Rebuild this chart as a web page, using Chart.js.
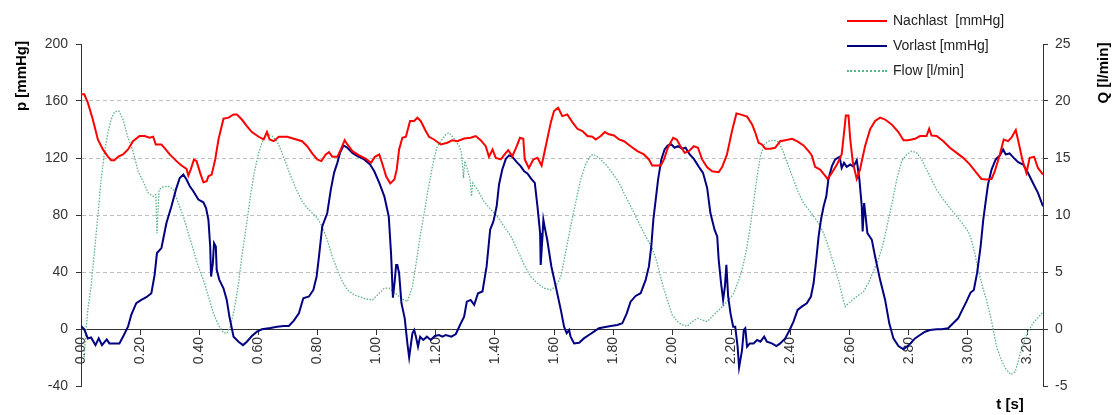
<!DOCTYPE html>
<html>
<head>
<meta charset="utf-8">
<script src="https://cdn.jsdelivr.net/npm/chart.js@4"></script>
<style>
  body { margin: 0; background: #fff; }
  #wrap { position: relative; width: 1116px; height: 415px; font-family: Arial, "Liberation Sans", sans-serif; }
  #leyenda { position: absolute; left: 847px; top: 8px; font-size: 14px; color: #222; }
  #leyenda div { height: 25px; line-height: 25px; white-space: pre; }
  #leyenda .linea { display: inline-block; width: 40px; height: 0; vertical-align: middle; margin-right: 6px; }
</style>
</head>
<body>
<div id="wrap">
  <canvas id="grafica" width="1116" height="415"></canvas>
  <div id="leyenda"></div>
</div>
<script>
// tiempo [s] y valores
const xTicks = [0, 0.2, 0.4, 0.6, 0.8, 1.0, 1.2, 1.4, 1.6, 1.8, 2.0, 2.2, 2.4, 2.6, 2.8, 3.0, 3.2]
const pTicks = [-40, 0, 40, 80, 120, 160, 200]
const qTicks = [-5, 0, 5, 10, 15, 20, 25]

const nachlastT = [0, 0.011, 0.023, 0.040, 0.057, 0.074, 0.091, 0.102, 0.113, 0.125, 0.142, 0.159, 0.176, 0.198, 0.215, 0.232, 0.244, 0.253, 0.272, 0.283,
  0.300, 0.323, 0.340, 0.357, 0.363, 0.371, 0.382, 0.391, 0.403, 0.414, 0.425, 0.431, 0.442, 0.454, 0.465, 0.482, 0.499, 0.516, 0.527, 0.544,
  0.561, 0.578, 0.601, 0.618, 0.629, 0.638, 0.652, 0.669, 0.697, 0.720, 0.748, 0.765, 0.782, 0.799, 0.813, 0.828, 0.839, 0.850, 0.867, 0.879,
  0.892, 0.901, 0.918, 0.941, 0.964, 0.981, 0.994, 1.009, 1.020, 1.032, 1.046, 1.060, 1.068, 1.076, 1.087, 1.099, 1.113, 1.127, 1.138, 1.149,
  1.166, 1.177, 1.194, 1.217, 1.239, 1.256, 1.273, 1.296, 1.318, 1.335, 1.352, 1.369, 1.380, 1.392, 1.403, 1.420, 1.433, 1.445, 1.459, 1.474,
  1.485, 1.496, 1.501, 1.515, 1.530, 1.544, 1.558, 1.572, 1.589, 1.600, 1.614, 1.628, 1.645, 1.662, 1.679, 1.696, 1.713, 1.730, 1.741, 1.758,
  1.772, 1.786, 1.803, 1.820, 1.837, 1.859, 1.882, 1.904, 1.921, 1.932, 1.949, 1.961, 1.972, 1.985, 2.003, 2.015, 2.028, 2.042, 2.056, 2.073,
  2.087, 2.101, 2.118, 2.135, 2.157, 2.169, 2.185, 2.202, 2.217, 2.230, 2.253, 2.270, 2.281, 2.292, 2.303, 2.315, 2.332, 2.348, 2.365, 2.382,
  2.405, 2.422, 2.444, 2.461, 2.472, 2.483, 2.500, 2.514, 2.525, 2.540, 2.557, 2.573, 2.581, 2.587, 2.596, 2.602, 2.611, 2.624, 2.635, 2.652,
  2.669, 2.686, 2.703, 2.720, 2.742, 2.765, 2.782, 2.798, 2.821, 2.838, 2.860, 2.869, 2.877, 2.894, 2.917, 2.939, 2.962, 2.984, 3.007, 3.029,
  3.046, 3.063, 3.080, 3.091, 3.108, 3.121, 3.136, 3.147, 3.162, 3.173, 3.184, 3.198, 3.209, 3.224, 3.237, 3.254]
const nachlastP = [164.7, 164.7, 158.8, 147, 133, 126, 121, 118.5, 118.5, 120.8, 122.5, 126, 131.8, 135.4, 135.4, 134.2, 134.9, 129.5, 129.5, 127,
  122.5, 117.8, 114.7, 112.4, 107.7, 111.9, 119, 117.8, 109.6, 103, 103.7, 107.2, 108.4, 119, 133, 147.6, 148.3, 150.6, 150.6, 147,
  142.4, 138.2, 134.9, 133, 138.2, 133, 131.8, 134.9, 134.9, 133.5, 131.8, 128.3, 123.2, 119, 117.8, 122.5, 124.1, 120.8, 120.8, 126,
  132.5, 129.5, 124.8, 121.8, 119.4, 116.6, 120.8, 122.5, 115.4, 107.2, 102.2, 105, 112, 126, 134.2, 134.9, 146, 146, 148.3, 146,
  138.9, 134.9, 133, 129.5, 130.7, 132.5, 131.8, 133.7, 134.2, 135.4, 132.5, 128.3, 120.8, 126, 120.1, 119, 122.5, 125.5, 121.3, 128.3,
  134.2, 133.5, 119, 113, 119, 120.1, 114.7, 128.3, 144.8, 153, 155.3, 149.4, 150.6, 145.2, 140.5, 138.9, 135.4, 134.9, 133, 135.4,
  138.2, 136.6, 135.8, 133, 131.8, 128.3, 124.8, 122.5, 119, 114.7, 114.7, 114.7, 119, 127.2, 134.2, 133, 128.3, 123.6, 124.8, 128.3,
  127.2, 119, 113.5, 110.7, 110, 113.8, 122.5, 138.9, 151.3, 150.6, 149, 143.6, 137.7, 130.7, 129.5, 126.5, 126.5, 127.2, 131.8, 132.5,
  133.5, 131.8, 128.8, 124.8, 121.8, 113.8, 111.9, 108.4, 105.3, 109.6, 115.4, 122.5, 137.7, 149.9, 149.9, 133, 116.6, 105.3, 111.9, 128.3,
  140.1, 146, 148.3, 147, 143.6, 138.2, 132.5, 132.5, 133.5, 135.4, 135.4, 140.5, 135.8, 135.4, 131.8, 127.2, 123.6, 120.1, 115.4, 109.6,
  105.3, 104.9, 105.3, 110.7, 122.5, 133, 131.8, 134.2, 139.6, 129.5, 119, 109.6, 120.1, 120.8, 113, 108.4]

const vorlastT = [0, 0.011, 0.023, 0.034, 0.049, 0.060, 0.071, 0.087, 0.096, 0.130, 0.142, 0.159, 0.170, 0.187, 0.204, 0.221, 0.238, 0.249, 0.257, 0.272,
  0.289, 0.306, 0.321, 0.334, 0.346, 0.357, 0.368, 0.380, 0.397, 0.414, 0.423, 0.431, 0.437, 0.440, 0.446, 0.450, 0.456, 0.459, 0.468, 0.482,
  0.493, 0.502, 0.516, 0.533, 0.548, 0.561, 0.578, 0.595, 0.612, 0.641, 0.663, 0.686, 0.703, 0.720, 0.737, 0.752, 0.771, 0.786, 0.797, 0.805,
  0.816, 0.833, 0.845, 0.856, 0.867, 0.876, 0.888, 0.901, 0.918, 0.935, 0.958, 0.978, 0.992, 1.009, 1.026, 1.041, 1.049, 1.055, 1.061, 1.066,
  1.070, 1.076, 1.084, 1.095, 1.104, 1.110, 1.121, 1.127, 1.133, 1.140, 1.147, 1.158, 1.170, 1.183, 1.197, 1.211, 1.223, 1.234, 1.253, 1.268,
  1.282, 1.296, 1.305, 1.318, 1.330, 1.343, 1.358, 1.372, 1.384, 1.395, 1.406, 1.414, 1.425, 1.437, 1.448, 1.459, 1.474, 1.487, 1.499, 1.510,
  1.523, 1.535, 1.544, 1.553, 1.555, 1.561, 1.564, 1.568, 1.577, 1.591, 1.606, 1.623, 1.634, 1.643, 1.651, 1.656, 1.668, 1.685, 1.701, 1.718,
  1.735, 1.752, 1.769, 1.792, 1.814, 1.831, 1.846, 1.859, 1.876, 1.893, 1.910, 1.921, 1.929, 1.936, 1.944, 1.952, 1.963, 1.974, 1.985, 1.997,
  2.008, 2.019, 2.034, 2.045, 2.059, 2.073, 2.090, 2.104, 2.118, 2.129, 2.143, 2.152, 2.157, 2.165, 2.172, 2.178, 2.183, 2.189, 2.197, 2.206,
  2.213, 2.221, 2.226, 2.236, 2.242, 2.247, 2.253, 2.262, 2.275, 2.287, 2.298, 2.311, 2.320, 2.337, 2.352, 2.365, 2.382, 2.397, 2.410, 2.424,
  2.438, 2.455, 2.469, 2.478, 2.487, 2.495, 2.503, 2.512, 2.521, 2.528, 2.540, 2.551, 2.566, 2.573, 2.581, 2.590, 2.602, 2.613, 2.624, 2.633,
  2.641, 2.644, 2.649, 2.654, 2.660, 2.675, 2.686, 2.703, 2.720, 2.734, 2.748, 2.765, 2.782, 2.793, 2.806, 2.821, 2.838, 2.855, 2.872, 2.894,
  2.911, 2.933, 2.950, 2.967, 2.978, 2.995, 3.009, 3.020, 3.031, 3.043, 3.052, 3.061, 3.068, 3.080, 3.094, 3.108, 3.119, 3.128, 3.141, 3.155,
  3.170, 3.187, 3.203, 3.220, 3.237, 3.254]
const vorlastP = [2.1, -0.2, -6.6, -5.9, -11.3, -6.6, -11.3, -7.3, -10.1, -10.1, -5.4, 1.6, 9.9, 18.1, 20.4, 22.3, 25.1, 38, 53.3, 56.8,
  74.4, 86.1, 97.8, 106, 108.4, 104.9, 100.2, 96.7, 90.8, 88.9, 84.9, 76.7, 57.9, 36.8, 46.2, 60.3, 57.9, 41.5, 34.5, 28.6,
  20.4, 8.7, -5.4, -8.9, -11.3, -8.9, -4.9, -1.9, -0.2, 0.7, 1.6, 2.1, 2.1, 5.9, 11, 21.6, 22.8, 27.4, 36.8, 50.9,
  72, 81.4, 97.8, 109.6, 116.6, 123.6, 128.8, 127.2, 123.6, 121.3, 119, 115.4, 110.7, 102.5, 93.1, 79, 52, 22, 33.3, 45,
  45, 39.2, 18.1, 7.5, -10.1, -20, -3, -0.7, -5.4, -12.4, -5.4, -7.7, -5.4, -7.7, -4.9, -4.2, -5.4, -4.2, -5.4, -3.5,
  2.8, 8.7, 19.2, 20.4, 16.9, 25.1, 26.3, 43.9, 69.7, 75.5, 86.1, 101.4, 111.9, 119.4, 121.8, 120.8, 117.1, 114.3, 110.7, 109.1,
  105.3, 102.5, 86.1, 67.3, 45, 65, 76.7, 72, 62.6, 43.9, 29.8, 13.4, 1.6, -3, -0.7, -5.4, -10.1, -9.6, -6.6, -4.2,
  -1.9, 0.5, 1.2, 2.1, 2.8, 4, 11, 19.2, 23.2, 25.1, 34.5, 43.9, 57.9, 76.7, 90.8, 104.9, 119, 126, 128.8, 129.5,
  127.2, 128.3, 126.5, 127.2, 122.5, 119.4, 113.8, 109.6, 99, 81.4, 69.7, 65, 48.6, 32.1, 20.4, 29.8, 45, 22.8, 11, 1.6,
  1.6, -12.4, -27, -14.8, -0.7, 0.5, -12.4, -10.1, -10.1, -7.7, -8.9, -5.4, -8.9, -10.1, -12, -10.1, -6.6, -0.7, 5.2, 13.4,
  15.7, 18.1, 22.8, 32.1, 48.6, 65, 76.7, 86.1, 93.1, 104.9, 114.3, 119, 120.8, 113, 116.6, 113.8, 115.4, 113.8, 118.5, 104.9,
  86.1, 68.5, 88.4, 79.1, 67.3, 62.6, 50.9, 34.5, 20.4, 4, -6.6, -12, -14.3, -12.4, -10.1, -6.6, -4.2, -1.9, -0.7, -0.2,
  -0.2, 0.5, 4, 7.5, 12.2, 19.2, 25.6, 27.4, 39.2, 57.9, 76.7, 90.8, 101.4, 111.9, 119, 121.8, 126, 122.5, 123.2, 120.1,
  117.1, 115.4, 109.6, 102.5, 95.5, 86.1]

const flowT = [0.010, 0.016, 0.023, 0.034, 0.045, 0.057, 0.068, 0.079, 0.091, 0.102, 0.113, 0.128, 0.142, 0.159, 0.176, 0.193, 0.210, 0.227, 0.244, 0.253,
  0.257, 0.264, 0.278, 0.295, 0.312, 0.329, 0.346, 0.363, 0.380, 0.397, 0.414, 0.431, 0.448, 0.465, 0.482, 0.493, 0.505, 0.518, 0.533, 0.544,
  0.559, 0.573, 0.586, 0.601, 0.616, 0.629, 0.646, 0.663, 0.680, 0.697, 0.714, 0.731, 0.748, 0.765, 0.782, 0.799, 0.816, 0.833, 0.850, 0.867,
  0.884, 0.901, 0.924, 0.947, 0.969, 0.986, 1.003, 1.026, 1.043, 1.060, 1.082, 1.104, 1.121, 1.132, 1.147, 1.161, 1.174, 1.189, 1.203, 1.217,
  1.234, 1.245, 1.260, 1.279, 1.287, 1.294, 1.298, 1.307, 1.316, 1.321, 1.325, 1.341, 1.363, 1.386, 1.408, 1.431, 1.454, 1.476, 1.499, 1.521,
  1.544, 1.566, 1.589, 1.606, 1.623, 1.639, 1.656, 1.673, 1.690, 1.707, 1.724, 1.735, 1.752, 1.775, 1.797, 1.820, 1.842, 1.865, 1.887, 1.910,
  1.932, 1.949, 1.966, 1.983, 2.000, 2.017, 2.034, 2.051, 2.068, 2.085, 2.101, 2.118, 2.146, 2.169, 2.191, 2.208, 2.221, 2.236, 2.251, 2.264,
  2.275, 2.287, 2.298, 2.311, 2.326, 2.343, 2.360, 2.377, 2.393, 2.410, 2.427, 2.444, 2.461, 2.478, 2.495, 2.512, 2.528, 2.545, 2.562, 2.573,
  2.585, 2.602, 2.624, 2.647, 2.663, 2.680, 2.697, 2.714, 2.731, 2.746, 2.759, 2.776, 2.793, 2.810, 2.827, 2.843, 2.860, 2.877, 2.894, 2.917,
  2.939, 2.962, 2.984, 3.001, 3.012, 3.023, 3.035, 3.049, 3.063, 3.074, 3.085, 3.097, 3.110, 3.125, 3.145, 3.160, 3.180, 3.200, 3.220, 3.254]
const flowQ = [-2.75, -0.38, 1.68, 3.73, 6.66, 9.89, 13.11, 15.45, 17.21, 18.38, 19.04, 19.13, 18.38, 16.78, 15.6, 13.84, 12.96, 11.94, 11.64, 11.79,
  8.41, 12.23, 12.46, 12.53, 12.23, 11.05, 9.89, 8.41, 6.95, 5.49, 4.31, 2.85, 1.38, 0.35, -0.33, -0.38, 0.2, 1.68, 4.01, 6.36,
  9.0, 11.64, 13.7, 15.45, 16.63, 17.15, 16.93, 16.48, 15.45, 14.29, 13.11, 12.09, 11.2, 10.61, 10.18, 9.74, 9.0, 7.83, 6.36, 5.19,
  4.16, 3.43, 2.99, 2.79, 2.61, 2.55, 2.99, 3.58, 3.58, 3.2, 2.7, 2.4, 3.73, 5.49, 8.13, 10.18, 12.23, 14.29, 15.9, 16.48,
  17.06, 17.21, 16.78, 16.04, 15.45, 13.25, 14.73, 13.99, 13.11, 11.64, 12.81, 12.23, 11.2, 10.48, 9.89, 9.0, 8.13, 6.95, 5.63, 4.6,
  4.01, 3.58, 3.43, 3.73, 4.6, 6.66, 9.0, 11.05, 13.11, 14.43, 15.23, 15.31, 15.01, 14.43, 13.7, 12.81, 11.64, 10.48, 9.3, 8.13,
  7.1, 5.78, 4.01, 2.55, 1.24, 0.65, 0.35, 0.26, 0.65, 0.94, 0.79, 0.65, 1.38, 1.96, 2.55, 3.14, 4.01, 5.19, 6.95, 9.0,
  11.05, 13.4, 15.16, 16.19, 16.48, 16.56, 16.4, 15.45, 14.29, 13.11, 11.94, 11.05, 10.48, 9.89, 9.3, 8.41, 7.24, 5.78, 4.31, 3.14,
  1.96, 2.4, 2.85, 3.29, 4.01, 5.05, 6.08, 7.54, 9.59, 11.35, 13.11, 14.73, 15.31, 15.6, 15.45, 14.88, 13.99, 13.11, 12.23, 11.35,
  10.61, 9.89, 9.15, 8.56, 7.83, 6.66, 5.19, 3.73, 2.55, 1.38, 0.06, -1.55, -2.5, -3.38, -4.0, -3.75, -1.88, -0.38, 0.5, 1.5]

const tituloP = "p [mmHg]"
const tituloQ = "Q [l/min]"
const tituloT = "t [s]"
const fuente = 'Arial, "Liberation Sans", sans-serif'

const series = [
  { label: "Nachlast  [mmHg]", t: nachlastT, v: nachlastP, color: "#ff0000", ancho: 2, eje: "y", estilo: "solid" },
  { label: "Vorlast [mmHg]", t: vorlastT, v: vorlastP, color: "#000080", ancho: 2, eje: "y", estilo: "solid" },
  { label: "Flow [l/min]", t: flowT, v: flowQ, color: "#5cb488", ancho: 1.3, eje: "y1", estilo: "dotted" }
]

// leyenda en html
const leyenda = document.querySelector("#leyenda")
let template = ""
series.forEach(s => {
  template += `<div><span class="linea" style="border-top:2px ${s.estilo} ${s.color}"></span>${s.label}</div>`
})
leyenda.innerHTML = template

// titulos de los ejes
const titulos = {
  id: "titulos",
  afterDraw(chart) {
    const ctx = chart.ctx
    ctx.save()
    ctx.font = "bold 15px " + fuente
    ctx.fillStyle = "#000"
    ctx.textAlign = "center"
    ctx.textBaseline = "middle"
    ctx.save()
    ctx.translate(22, 76)
    ctx.rotate(-Math.PI / 2)
    ctx.fillText(tituloP, 0, 0)
    ctx.restore()
    ctx.save()
    ctx.translate(1104, 73)
    ctx.rotate(-Math.PI / 2)
    ctx.fillText(tituloQ, 0, 0)
    ctx.restore()
    ctx.fillText(tituloT, 1010, 405)
    ctx.restore()
  }
}

const grafDOM = document.querySelector("#grafica")
const config = {
  type: "line",
  data: {
    datasets: series.map(s => ({
      label: s.label,
      data: s.t.map((t, i) => ({ x: t, y: s.v[i] })),
      borderColor: s.color,
      borderWidth: s.ancho,
      borderDash: s.estilo == "dotted" ? [1.5, 1.5] : [],
      yAxisID: s.eje,
      pointRadius: 0,
      tension: 0
    }))
  },
  options: {
    responsive: false,
    animation: false,
    layout: { padding: { top: 44, bottom: 29, left: 0, right: 0 } },
    plugins: { legend: { display: false }, tooltip: { enabled: false } },
    scales: {
      x: {
        type: "linear",
        position: { y: 0 },
        min: 0,
        max: 3.254,
        afterBuildTicks: scale => { scale.ticks = xTicks.map(v => ({ value: v })) },
        ticks: { autoSkip: false, minRotation: 90, maxRotation: 90, padding: 3, color: "#333",
          font: { family: fuente, size: 14 }, callback: v => Number(v).toFixed(2) },
        grid: { drawOnChartArea: false, drawTicks: true, tickLength: 5, tickColor: "#333" },
        border: { color: "#333", width: 1 }
      },
      y: {
        position: "left",
        min: -40,
        max: 200,
        afterBuildTicks: scale => { scale.ticks = pTicks.map(v => ({ value: v })) },
        afterFit: scale => { scale.width = 81 },
        ticks: { padding: 8, color: "#333", font: { family: fuente, size: 14 } },
        grid: {
          color: c => (c.tick && [40, 80, 120, 160].includes(c.tick.value)) ? "#c0c0c0" : "rgba(0,0,0,0)",
          tickColor: "#333", tickLength: 5
        },
        border: { color: "#333", width: 1, dash: [4, 3] }
      },
      y1: {
        position: "right",
        min: -5,
        max: 25,
        afterBuildTicks: scale => { scale.ticks = qTicks.map(v => ({ value: v })) },
        afterFit: scale => { scale.width = 73 },
        ticks: { padding: 7, color: "#333", font: { family: fuente, size: 14 } },
        grid: { drawOnChartArea: false, tickColor: "#333", tickLength: 5 },
        border: { color: "#333", width: 1 }
      }
    }
  },
  plugins: [titulos]
}
const miGraf = new Chart(grafDOM, config)
</script>
</body>
</html>
